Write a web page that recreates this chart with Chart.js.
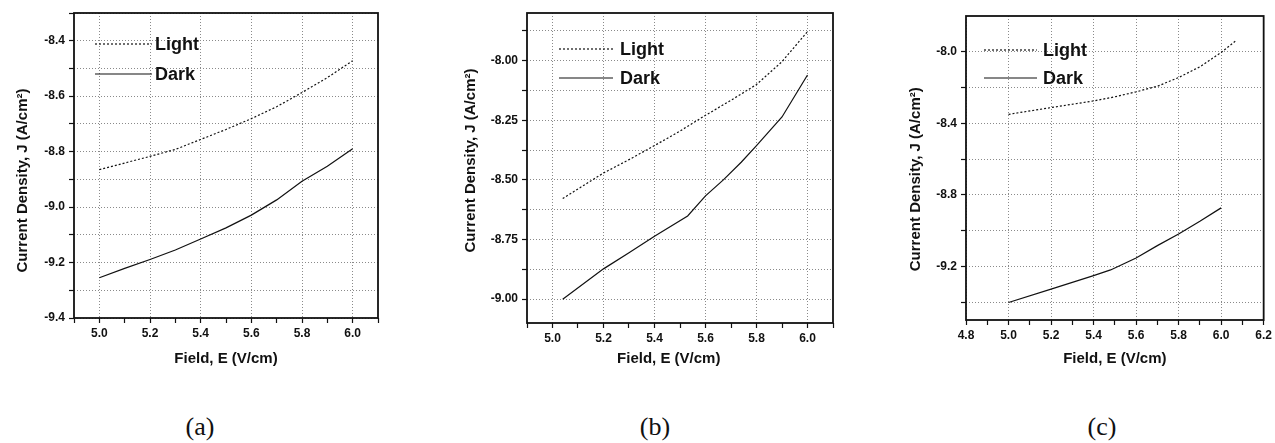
<!DOCTYPE html>
<html>
<head>
<meta charset="utf-8">
<script src="https://cdn.jsdelivr.net/npm/chart.js@4/dist/chart.umd.min.js"></script>
<style>
    body { margin: 0; background: #fff; }
    #wrap { position: relative; width: 1275px; height: 443px; overflow: hidden; }
    .panel { position: absolute; top: 0; }
    .tag { position: absolute; top: 412px; width: 80px; margin-left: -40px; text-align: center;
           font-family: 'Liberation Serif', 'Times New Roman', serif; font-size: 26px; color: #111; }
</style>
</head>
<body>
<div id="wrap">
    <div class="panel" style="left:0px"><canvas id="chartA" width="400" height="372"></canvas></div>
    <div class="panel" style="left:440px"><canvas id="chartB" width="410" height="372"></canvas></div>
    <div class="panel" style="left:880px"><canvas id="chartC" width="395" height="372"></canvas></div>
    <div class="tag" style="left:200px">(a)</div>
    <div class="tag" style="left:655px">(b)</div>
    <div class="tag" style="left:1102px">(c)</div>
</div>
<script>
'use strict'

// panel (a)
const xA = [5.0, 5.1, 5.2, 5.3, 5.4, 5.5, 5.6, 5.7, 5.8, 5.9, 6.0];
const lightA = [-8.865, -8.841, -8.817, -8.792, -8.756, -8.720, -8.681, -8.638, -8.587, -8.533, -8.472];
const darkA = [-9.255, -9.221, -9.189, -9.155, -9.115, -9.075, -9.029, -8.974, -8.907, -8.853, -8.790];
const xTicksA = [4.9, 5.0, 5.1, 5.2, 5.3, 5.4, 5.5, 5.6, 5.7, 5.8, 5.9, 6.0, 6.1];
const xLabelsA = [5.0, 5.2, 5.4, 5.6, 5.8, 6.0];
const yTicksA = [-9.4, -9.3, -9.2, -9.1, -9.0, -8.9, -8.8, -8.7, -8.6, -8.5, -8.4, -8.3];
const yLabelsA = [-9.4, -9.2, -9.0, -8.8, -8.6, -8.4];

// panel (b)
const xLightB = [5.04, 5.2, 5.3, 5.4, 5.5, 5.6, 5.7, 5.8, 5.9, 6.0];
const lightB = [-8.578, -8.471, -8.415, -8.356, -8.295, -8.229, -8.166, -8.100, -8.004, -7.878];
const xDarkB = [5.04, 5.2, 5.3, 5.4, 5.53, 5.6, 5.67, 5.74, 5.8, 5.9, 6.0];
const darkB = [-9.0, -8.873, -8.805, -8.736, -8.651, -8.567, -8.5, -8.426, -8.356, -8.236, -8.06];
const xTicksB = [4.9, 5.0, 5.1, 5.2, 5.3, 5.4, 5.5, 5.6, 5.7, 5.8, 5.9, 6.0, 6.1];
const xLabelsB = [5.0, 5.2, 5.4, 5.6, 5.8, 6.0];
const yTicksB = [-9.0, -8.875, -8.75, -8.625, -8.5, -8.375, -8.25, -8.125, -8.0, -7.875];
const yLabelsB = [-9.0, -8.75, -8.5, -8.25, -8.0];

// panel (c)
const xLightC = [5.0, 5.2, 5.4, 5.5, 5.6, 5.7, 5.8, 5.9, 6.0, 6.07];
const lightC = [-8.35, -8.312, -8.275, -8.252, -8.224, -8.193, -8.144, -8.084, -8.004, -7.938];
const xDarkC = [5.0, 5.2, 5.4, 5.48, 5.6, 5.7, 5.8, 5.9, 6.0];
const darkC = [-9.402, -9.327, -9.252, -9.22, -9.153, -9.084, -9.019, -8.948, -8.873];
const xTicksC = [4.8, 4.9, 5.0, 5.1, 5.2, 5.3, 5.4, 5.5, 5.6, 5.7, 5.8, 5.9, 6.0, 6.1, 6.2];
const xLabelsC = [4.8, 5.0, 5.2, 5.4, 5.6, 5.8, 6.0, 6.2];
const yTicksC = [-9.4, -9.2, -9.0, -8.8, -8.6, -8.4, -8.2, -8.0];
const yLabelsC = [-9.2, -8.8, -8.4, -8.0];

const seriesNames = ['Light', 'Dark'];
const xTitle = 'Field, E (V/cm)';
const yTitle = 'Current Density, J (A/cm²)';

Chart.defaults.font.family = "'Liberation Sans', Arial, sans-serif";
Chart.defaults.color = '#111';

const gridGray = '#8a8a8a';
const sp = '\u2002';

const framePlugin = {
    id: 'frame',
    afterDraw(chart) {
        const a = chart.chartArea;
        const ctx = chart.ctx;
        ctx.save();
        ctx.strokeStyle = '#111';
        ctx.lineWidth = 1.8;
        ctx.strokeRect(a.left, a.top, a.right - a.left, a.bottom - a.top);
        ctx.restore();
    }
};

const innerLegend = {
    id: 'innerLegend',
    afterDraw(chart, args, opts) {
        const a = chart.chartArea;
        const ctx = chart.ctx;
        ctx.save();
        chart.data.datasets.forEach((ds, i) => {
            const y = a.top + opts.y + i * opts.gap;
            ctx.strokeStyle = ds.borderColor;
            ctx.lineWidth = ds.borderWidth;
            ctx.setLineDash(ds.borderDash || []);
            ctx.beginPath();
            ctx.moveTo(a.left + opts.x, y);
            ctx.lineTo(a.left + opts.x + opts.len, y);
            ctx.stroke();
            ctx.setLineDash([]);
            ctx.fillStyle = '#111';
            ctx.font = "bold 18px 'Liberation Sans', Arial, sans-serif";
            ctx.textBaseline = 'middle';
            ctx.fillText(ds.label, a.left + opts.textX, y + 1);
        });
        ctx.restore();
    }
};

function points(xs, ys) {
    return xs.map((x, i) => ({ x: x, y: ys[i] }));
}

function makeChart(id, p) {
    return new Chart(document.getElementById(id), {
        type: 'line',
        data: {
            datasets: [
                {
                    label: seriesNames[0],
                    data: points(p.xLight, p.light),
                    borderColor: '#111',
                    borderWidth: 1.2,
                    borderDash: [2, 2],
                    pointRadius: 0,
                    tension: 0
                },
                {
                    label: seriesNames[1],
                    data: points(p.xDark, p.dark),
                    borderColor: '#111',
                    borderWidth: 1.2,
                    pointRadius: 0,
                    tension: 0
                }
            ]
        },
        options: {
            responsive: false,
            animation: false,
            events: [],
            layout: { padding: p.padding },
            plugins: {
                legend: { display: false },
                tooltip: { enabled: false },
                innerLegend: p.legend
            },
            scales: {
                x: {
                    type: 'linear',
                    min: p.xTicks[0],
                    max: p.xTicks[p.xTicks.length - 1],
                    afterBuildTicks: scale => { scale.ticks = p.xTicks.map(v => ({ value: v })); },
                    afterFit: scale => { scale.height = p.xHeight; },
                    ticks: {
                        autoSkip: false,
                        maxRotation: 0,
                        padding: 3,
                        font: { size: 12, weight: 'bold' },
                        callback: v => p.xLabels.includes(v) ? v.toFixed(1) : ''
                    },
                    grid: {
                        color: c => (c.tick && p.xLabels.includes(c.tick.value)) ? gridGray : 'rgba(0,0,0,0)',
                        lineWidth: 1,
                        tickColor: '#111',
                        tickLength: 5,
                        tickWidth: 1.2
                    },
                    border: { display: false, dash: [1, 2] },
                    title: {
                        display: true,
                        text: xTitle + p.xTitleTail,
                        font: { size: 15, weight: 'bold' },
                        padding: { top: 4, bottom: 4 }
                    }
                },
                y: {
                    type: 'linear',
                    min: p.yMin,
                    max: p.yMax,
                    afterBuildTicks: scale => { scale.ticks = p.yTicks.map(v => ({ value: v })); },
                    afterFit: scale => { scale.width = p.yWidth; },
                    ticks: {
                        autoSkip: false,
                        padding: 4,
                        font: { size: 12, weight: 'bold' },
                        callback: v => p.yLabels.includes(v) ? v.toFixed(p.yDigits) : ''
                    },
                    grid: {
                        color: gridGray,
                        lineWidth: 1,
                        tickColor: '#111',
                        tickLength: 5,
                        tickWidth: 1.2
                    },
                    border: { display: false, dash: [1, 2] },
                    title: {
                        display: true,
                        text: p.yTitleHead + yTitle + p.yTitleTail,
                        font: { size: 15, weight: 'bold' },
                        padding: { top: 4, bottom: 4 }
                    }
                }
            }
        },
        plugins: [framePlugin, innerLegend]
    });
}

makeChart('chartA', {
    xLight: xA, light: lightA, xDark: xA, dark: darkA,
    xTicks: xTicksA, xLabels: xLabelsA, yTicks: yTicksA, yLabels: yLabelsA,
    yMin: -9.4, yMax: -8.3, yDigits: 1,
    padding: { left: 10, top: 13, right: 22, bottom: 0 }, yWidth: 64, xHeight: 54,
    legend: { x: 21, y: 31, gap: 30, len: 57, textX: 81 },
    xTitleTail: '', yTitleHead: '', yTitleTail: sp.repeat(4)
});

makeChart('chartB', {
    xLight: xLightB, light: lightB, xDark: xDarkB, dark: darkB,
    xTicks: xTicksB, xLabels: xLabelsB, yTicks: yTicksB, yLabels: yLabelsB,
    yMin: -9.1, yMax: -7.8, yDigits: 2,
    padding: { left: 18, top: 13, right: 17, bottom: 0 }, yWidth: 69, xHeight: 49,
    legend: { x: 32, y: 36, gap: 29, len: 54, textX: 93 },
    xTitleTail: sp.repeat(3), yTitleHead: sp.repeat(2), yTitleTail: ''
});

makeChart('chartC', {
    xLight: xLightC, light: lightC, xDark: xDarkC, dark: darkC,
    xTicks: xTicksC, xLabels: xLabelsC, yTicks: yTicksC, yLabels: yLabelsC,
    yMin: -9.5, yMax: -7.8, yDigits: 1,
    padding: { left: 23, top: 16, right: 10, bottom: 0 }, yWidth: 63, xHeight: 52,
    legend: { x: 18, y: 34, gap: 28, len: 53, textX: 77 },
    xTitleTail: '', yTitleHead: '', yTitleTail: sp.repeat(3)
});
</script>
</body>
</html>
